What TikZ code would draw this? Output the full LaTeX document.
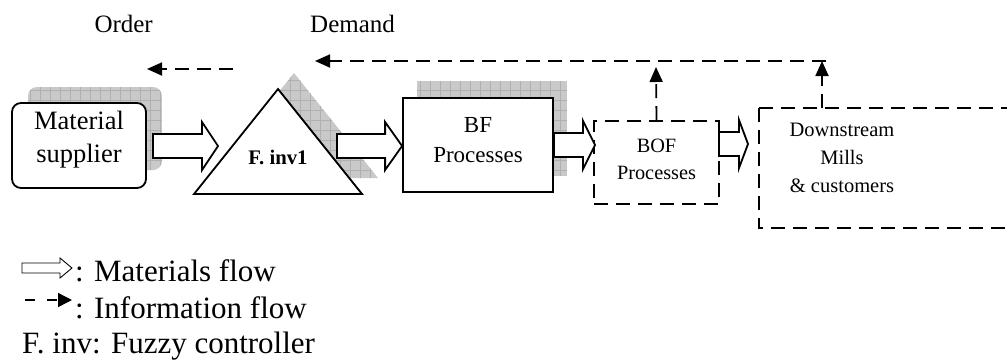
\documentclass[tikz,border=0pt]{standalone}
\usepackage{fontspec}
\setmainfont{Liberation Serif}
\usetikzlibrary{calc,arrows.meta}
\tikzset{
  x=1pt,y=-1pt,
  box/.style={draw,line width=1.8pt,fill=white,inner sep=0pt,align=center},
  dbox/.style={draw,line width=1.8pt,dash pattern=on 14pt off 8pt,inner sep=0pt,align=center},
  info/.style={line width=1.8pt,dash pattern=on 14pt off 8pt,-{Triangle[length=15pt,width=13pt]}},
  shadowfill/.style={fill=gray!42},
  shadowgrid/.style={draw=gray!62,line width=0.6pt},
  txt/.style={inner sep=0pt,align=center},
}
\newcommand\matflow[3]{%
  \draw[line width=1.8pt,fill=white,line join=miter] let \p1=(#1),\p2=(#2) in
    (\x1,\y1+12pt) -- (\x2-#3,\y1+12pt) -- (\x2-#3,\y1+24pt) -- (\x2,\y1)
    -- (\x2-#3,\y1-24pt) -- (\x2-#3,\y1-12pt) -- (\x1,\y1-12pt) -- cycle;}
\begin{document}
\begin{tikzpicture}
\useasboundingbox (0,0) rectangle (1008,360);
% ---------- shadows ----------
\begin{scope}
  \clip[rounded corners=9pt] (28,87) rectangle (162,170);
  \fill[shadowfill] (28,87) rectangle (162,170);
  \draw[shadowgrid,step=10pt] (28,87) grid (162,170);
\end{scope}
\begin{scope}
  \clip (294,73) -- (378,178) -- (210,178) -- cycle;
  \fill[shadowfill] (200,70) rectangle (380,180);
  \draw[shadowgrid,step=10pt] (200,70) grid (380,180);
\end{scope}
\begin{scope}
  \clip (417,81) rectangle (567,176);
  \fill[shadowfill] (417,81) rectangle (567,176);
  \draw[shadowgrid,step=10pt] (417,81) grid (567,176);
\end{scope}
% ---------- blocks ----------
\node[box,rounded corners=9pt,minimum width=134pt,minimum height=85pt] (ms) at (79,145.5) {};
\node[txt,font=\fontsize{26.5}{33}\selectfont] (mst) at (79,140) {Material\\supplier};
\draw[line width=1.8pt,fill=white,line join=miter] (278,89) -- (362,194) -- (194,194) -- cycle;
\node[txt,font=\fontsize{20.7}{24}\bfseries\selectfont] (inv) at (278,157) {F. inv1};
\node[box,minimum width=150pt,minimum height=94pt] (bf) at (478,145) {};
\node[txt,font=\fontsize{23}{30}\selectfont] (bft) at (478,140) {BF\\Processes};
\node[dbox,minimum width=125pt,minimum height=83pt] (bof) at (656.5,162.5) {};
\node[txt,font=\fontsize{20.3}{27}\selectfont] (boft) at (656.5,159) {BOF\\Processes};
\coordinate (dsa) at (1007,108);
\coordinate (dsb) at (759,108);
\coordinate (dsc) at (759,228);
\coordinate (dsd) at (1007,228);
\draw[dbox] (dsb) -- (dsa);
\draw[dbox] (dsb) -- (dsc) -- (dsd);
\node[txt,font=\fontsize{20.5}{28}\selectfont] (dst) at (842,158) {Downstream\\Mills\\\& customers};
% ---------- material flows ----------
\coordinate (a1s) at (153,146);
\coordinate (a1e) at (218,146);
\coordinate (a2s) at (337,146);
\coordinate (a3e) at (595,146);
\coordinate (a4s) at (719,144);
\coordinate (a4e) at (748,144);
\matflow{a1s}{a1e}{16pt}
\matflow{a2s}{bf.west}{17pt}
\matflow{bf.east}{a3e}{12pt}
\matflow{a4s}{a4e}{9pt}
% ---------- information flows ----------
\coordinate (i1) at (656,67);
\coordinate (dtop) at (822,108);
\coordinate (i2) at (822,61);
\coordinate (hs) at (826,61);
\coordinate (he) at (315,61);
\coordinate (os) at (233,69);
\coordinate (oe) at (147,69);
\draw[info] (bof.north) -- (i1);
\draw[info] (dtop) -- (i2);
\draw[info] (hs) -- (he);
\draw[info] (os) -- (oe);
% ---------- labels ----------
\node[inner sep=0pt,anchor=base east,font=\fontsize{25}{28}\selectfont] (order) at (153,32) {Order};
\node[inner sep=0pt,anchor=base west,font=\fontsize{25}{28}\selectfont] (demand) at (310,32) {Demand};
% ---------- legend ----------
\draw[line width=0.9pt,fill=white,line join=miter] (22,263) -- (60,263) -- (60,258) -- (72,268) -- (60,278) -- (60,273) -- (22,273) -- cycle;
\node[inner sep=0pt,anchor=base west,font=\fontsize{31}{36}\selectfont] (l1) at (75,281) {: Materials flow};
\coordinate (ls) at (25,300);
\coordinate (le) at (72,300);
\draw[line width=1.4pt,dash pattern=on 10pt off 12pt,-{Triangle[length=14pt,width=14pt]}] (ls) -- (le);
\node[inner sep=0pt,anchor=base west,font=\fontsize{31}{36}\selectfont] (l2) at (75,318) {: Information flow};
\node[inner sep=0pt,anchor=base west,font=\fontsize{31}{36}\selectfont] (l3) at (22,353) {F. inv: Fuzzy controller};
\end{tikzpicture}
\end{document}
